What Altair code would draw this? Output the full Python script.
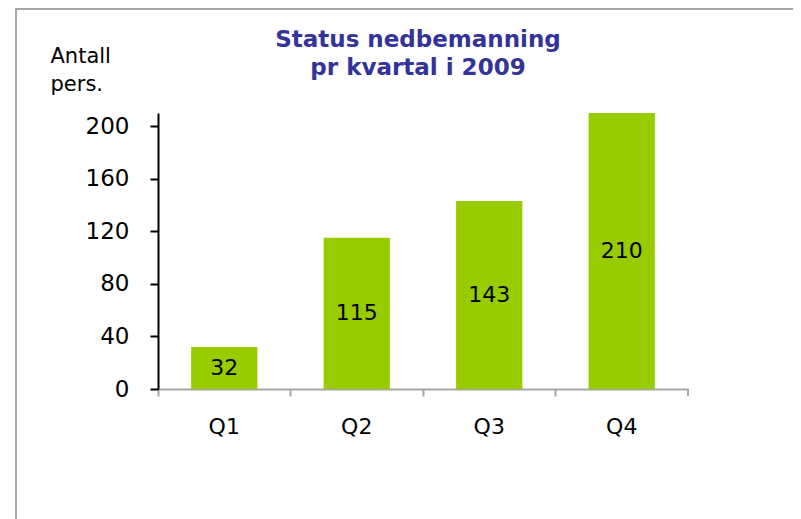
import altair as alt
import pandas as pd

quarters = ["Q1", "Q2", "Q3", "Q4"]
values = [32, 115, 143, 210]
y_ticks = [0, 40, 80, 120, 160, 200]
title_lines = ["Status nedbemanning", "pr kvartal i 2009"]
y_title = ["Antall", "pers."]

df = pd.DataFrame({"q": quarters, "v": values})
one = pd.DataFrame({"a": [0]})

W, H = 530, 276
FONT = "DejaVu Sans"
GRAY = "#a6a6a6"

x = alt.X("q:N", sort=quarters,
          scale=alt.Scale(paddingInner=0, paddingOuter=0),
          axis=alt.Axis(title=None, labelAngle=0, bandPosition=0,
                        domainColor=GRAY, domainWidth=2, tickColor=GRAY, tickWidth=2,
                        tickSize=7, labelPadding=20, labelFontSize=22, labelFont=FONT,
                        labelColor="black"))
y = alt.Y("v:Q", scale=alt.Scale(domain=[0, 210], nice=False),
          axis=alt.Axis(values=y_ticks, title=y_title, titleAngle=0, titleX=-108, titleY=-51,
                        titleAlign="left", titleBaseline="alphabetic", titleFontSize=21,
                        titleFont=FONT, titleFontWeight="normal", titleLineHeight=28,
                        domainColor="black", domainWidth=2, tickColor="black", tickWidth=2,
                        tickSize=8, labelPadding=21, labelFontSize=23, labelFont=FONT,
                        labelColor="black", grid=False))

bars = alt.Chart(df).mark_bar(color="#99cc00", width=alt.RelativeBandSize(0.5)).encode(x=x, y=y)

labels = alt.Chart(df).transform_calculate(mid="datum.v/2").mark_text(
    fontSize=22, font=FONT, color="black", baseline="middle", align="center"
).encode(x=alt.X("q:N", sort=quarters), y=alt.Y("mid:Q"), text="v:Q")

end_tick = alt.Chart(df).mark_rule(color=GRAY, strokeWidth=2).encode(
    x=alt.value(W), y=alt.value(H), y2=alt.value(H + 7))

border = alt.Chart(one).mark_rect(fill=None, stroke=GRAY, strokeWidth=2).encode(
    x=alt.value(-142), x2=alt.value(801 - 158 + 20),
    y=alt.value(-104), y2=alt.value(519 - 113 + 20))

title = alt.Chart(one).mark_text(
    text=title_lines, fontSize=23, font=FONT, fontWeight="bold", color="#333399",
    align="center", baseline="alphabetic", lineHeight=28
).encode(x=alt.value(W / 2 - 5), y=alt.value(-66))

chart = alt.layer(border, bars, labels, end_tick, title).properties(
    width=W, height=H,
    padding={"left": 150, "top": 105, "right": 105, "bottom": 130},
    autosize=alt.AutoSizeParams(type="none"),
).configure_view(stroke=None)

chart.save("out.html", embed_options={"renderer": "svg", "actions": False})
